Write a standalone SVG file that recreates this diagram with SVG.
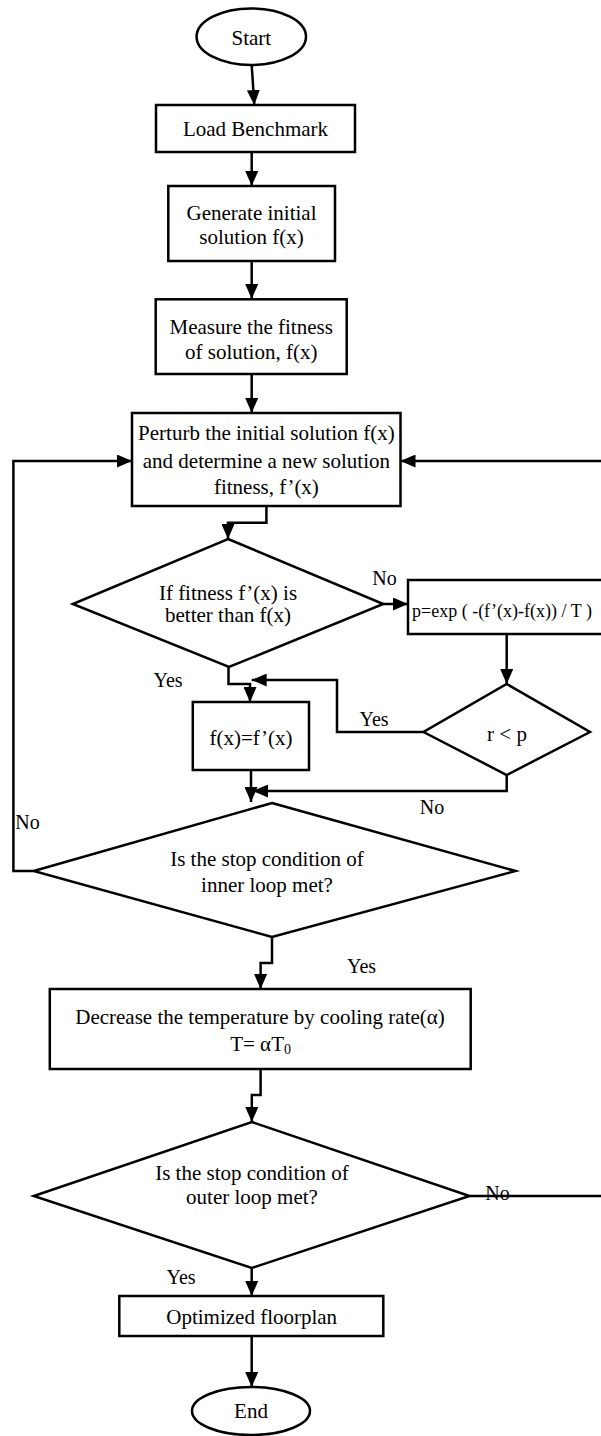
<svg xmlns="http://www.w3.org/2000/svg" width="601" height="1436" viewBox="0 0 601 1436">
<style>
.s{fill:#fff;stroke:#000;stroke-width:2.5}
.c{fill:none;stroke:#000;stroke-width:2.5}
text{font-family:"Liberation Serif","Times New Roman",serif;font-size:21px;fill:#000}
.m{text-anchor:middle}
.l{font-size:20px}
</style>
<defs>
<marker id="ah" markerUnits="userSpaceOnUse" markerWidth="15" markerHeight="13" refX="15" refY="6.5" orient="auto">
<path d="M0,0 L15,6.5 L0,13 z" fill="#000"/>
</marker>
</defs>
<rect width="601" height="1436" fill="#fff"/>
<g id="connectors">
<line class="c" x1="251.7" y1="65" x2="254.3" y2="105" marker-end="url(#ah)"/>
<line class="c" x1="251.7" y1="152" x2="251.7" y2="186" marker-end="url(#ah)"/>
<line class="c" x1="251.7" y1="261" x2="251.7" y2="299" marker-end="url(#ah)"/>
<line class="c" x1="251.7" y1="374" x2="251.7" y2="413" marker-end="url(#ah)"/>
<polyline class="c" points="266.4,506 266.4,522.7 228,522.7 228,539" marker-end="url(#ah)"/>
<line class="c" x1="383.3" y1="604" x2="408" y2="604" marker-end="url(#ah)"/>
<line class="c" x1="506.7" y1="634" x2="506.7" y2="684" marker-end="url(#ah)"/>
<polyline class="c" points="228.5,667 228.5,684 250,684 250,702" marker-end="url(#ah)"/>
<polyline class="c" points="423.5,732 337,732 337,680 251.7,680" marker-end="url(#ah)"/>
<line class="c" x1="251" y1="770" x2="251" y2="802" marker-end="url(#ah)"/>
<polyline class="c" points="506.7,775 506.7,791 253,791" marker-end="url(#ah)"/>
<polyline class="c" points="33.7,871 13.4,871 13.4,461 132,461" marker-end="url(#ah)"/>
<polyline class="c" points="272,937 272,963 260.6,963 260.6,989" marker-end="url(#ah)"/>
<polyline class="c" points="260.6,1069 260.6,1095 251.8,1095 251.8,1122" marker-end="url(#ah)"/>
<polyline class="c" points="469.5,1196 606,1196 606,461 400.5,461" marker-end="url(#ah)"/>
<line class="c" x1="251.7" y1="1268" x2="251.7" y2="1296" marker-end="url(#ah)"/>
<line class="c" x1="251.7" y1="1336" x2="251.7" y2="1387" marker-end="url(#ah)"/>
</g>
<g id="start"><ellipse class="s" cx="251.3" cy="36.7" rx="54.7" ry="28.3"/><text class="m" x="251.3" y="45">Start</text></g>
<g id="load"><rect class="s" x="156" y="105" width="199" height="47"/><text class="m" x="255.5" y="136">Load Benchmark</text></g>
<g id="generate"><rect class="s" x="168.3" y="186" width="166.7" height="75"/><text class="m" x="251.5" y="220">Generate initial</text><text class="m" x="251.5" y="244">solution f(x)</text></g>
<g id="measure"><rect class="s" x="155.7" y="299.3" width="191" height="74.7"/><text class="m" x="251.2" y="334">Measure the fitness</text><text class="m" x="251.2" y="359">of solution, f(x)</text></g>
<g id="perturb"><rect class="s" x="132" y="413" width="268.5" height="93"/><text class="m" x="266.4" y="440">Perturb the initial solution f(x)</text><text class="m" x="266.4" y="468">and determine a new solution</text><text class="m" x="266.4" y="494">fitness, f’(x)</text></g>
<g id="decision1"><polygon class="s" points="228,539 383.3,604 229,667 72.8,604"/><text class="m" x="228" y="600">If fitness f’(x) is</text><text class="m" x="228" y="622">better than f(x)</text></g>
<g id="prob"><rect class="s" x="408" y="580" width="200" height="54"/><text x="412" y="617" style="font-size:18px">p=exp ( -(f’(x)-f(x)) / T )</text></g>
<g id="rp"><polygon class="s" points="506.7,684 590,732 506.7,775 423.5,732"/><text class="m" x="507" y="741">r &lt; p</text></g>
<g id="accept"><rect class="s" x="192.8" y="702" width="116.2" height="68"/><text class="m" x="251" y="745">f(x)=f’(x)</text></g>
<g id="inner"><polygon class="s" points="272,803 515.5,871 272,937 33.7,871"/><text class="m" x="267" y="866">Is the stop condition of</text><text class="m" x="267" y="892">inner loop met?</text></g>
<g id="decrease"><rect class="s" x="49.8" y="989" width="420.9" height="80"/><text class="m" x="260" y="1024">Decrease the temperature by cooling rate(α)</text><text class="m" x="260.6" y="1051">T= αT<tspan style="font-size:14px" dy="3">0</tspan></text></g>
<g id="outer"><polygon class="s" points="251.8,1122 469.5,1196 251.7,1268 33.7,1196"/><text class="m" x="252" y="1180">Is the stop condition of</text><text class="m" x="252" y="1204">outer loop met?</text></g>
<g id="optimized"><rect class="s" x="119.3" y="1296" width="264" height="40"/><text class="m" x="251.7" y="1324">Optimized floorplan</text></g>
<g id="end"><ellipse class="s" cx="251" cy="1411" rx="59" ry="24"/><text class="m" x="251" y="1418">End</text></g>
<g id="labels">
<text class="m l" x="384.5" y="585">No</text>
<text class="m l" x="168" y="687">Yes</text>
<text class="m l" x="374" y="726">Yes</text>
<text class="m l" x="432" y="814">No</text>
<text class="m l" x="27.5" y="829">No</text>
<text class="m l" x="361.5" y="973">Yes</text>
<text class="m l" x="497.5" y="1200">No</text>
<text class="m l" x="181" y="1284">Yes</text>
</g>
</svg>
